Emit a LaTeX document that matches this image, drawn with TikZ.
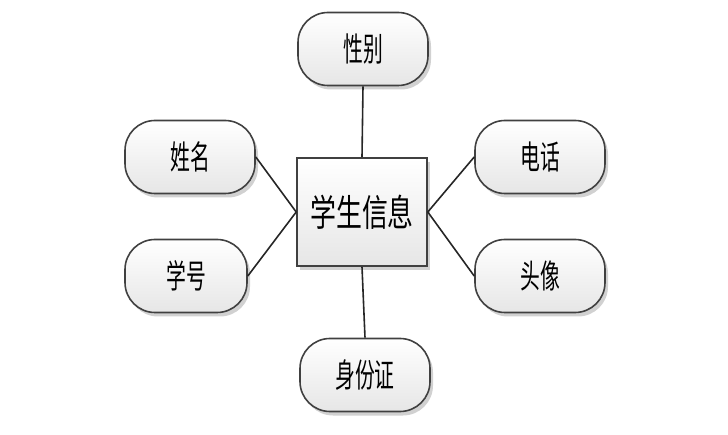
\documentclass[tikz,border=0pt]{standalone}
\usepackage{fontspec}
\newfontfamily\cjk{Noto Sans CJK SC}
\usetikzlibrary{shadows}
\definecolor{edgegray}{HTML}{404040}
\definecolor{fillbottom}{HTML}{E6E6E6}
\tikzset{
  base/.style={draw=edgegray, line width=1.6pt, top color=white, bottom color=fillbottom,
    drop shadow={shadow xshift=3pt, shadow yshift=-4pt, fill=black!18, opacity=1},
    inner sep=0pt, font=\cjk},
  attr/.style={base, rounded corners=30pt, minimum width=130pt, minimum height=73pt},
  entity/.style={base, minimum width=130pt, minimum height=108pt},
  link/.style={draw=black!85, line width=1.6pt},
}
\newcommand{\smalltxt}[1]{\scalebox{0.6}[1]{\fontsize{33}{33}\selectfont #1}}
\newcommand{\bigtxt}[1]{\scalebox{0.7}[1]{\fontsize{37}{37}\selectfont #1}}
\begin{document}
\begin{tikzpicture}[x=1pt,y=-1pt]
\useasboundingbox (0,0) rectangle (728,435);
\node[entity] (xx) at (362,212) {\bigtxt{学生信息}};
\node[attr] (xb) at (363,49) {\smalltxt{性别}};
\node[attr] (xm) at (190,157) {\smalltxt{姓名}};
\node[attr, minimum width=122pt] (xh) at (186,276) {\smalltxt{学号}};
\node[attr] (dh) at (540,157) {\smalltxt{电话}};
\node[attr] (tx) at (540,276) {\smalltxt{头像}};
\node[attr] (sf) at (365,375) {\smalltxt{身份证}};
\draw[link] (xb.south) -- (xx.north);
\draw[link] (xx.south) -- (sf.north);
\draw[link] (xm.east) -- (xx.west);
\draw[link] (xh.east) -- (xx.west);
\draw[link] (dh.west) -- (xx.east);
\draw[link] (tx.west) -- (xx.east);
\end{tikzpicture}
\end{document}
